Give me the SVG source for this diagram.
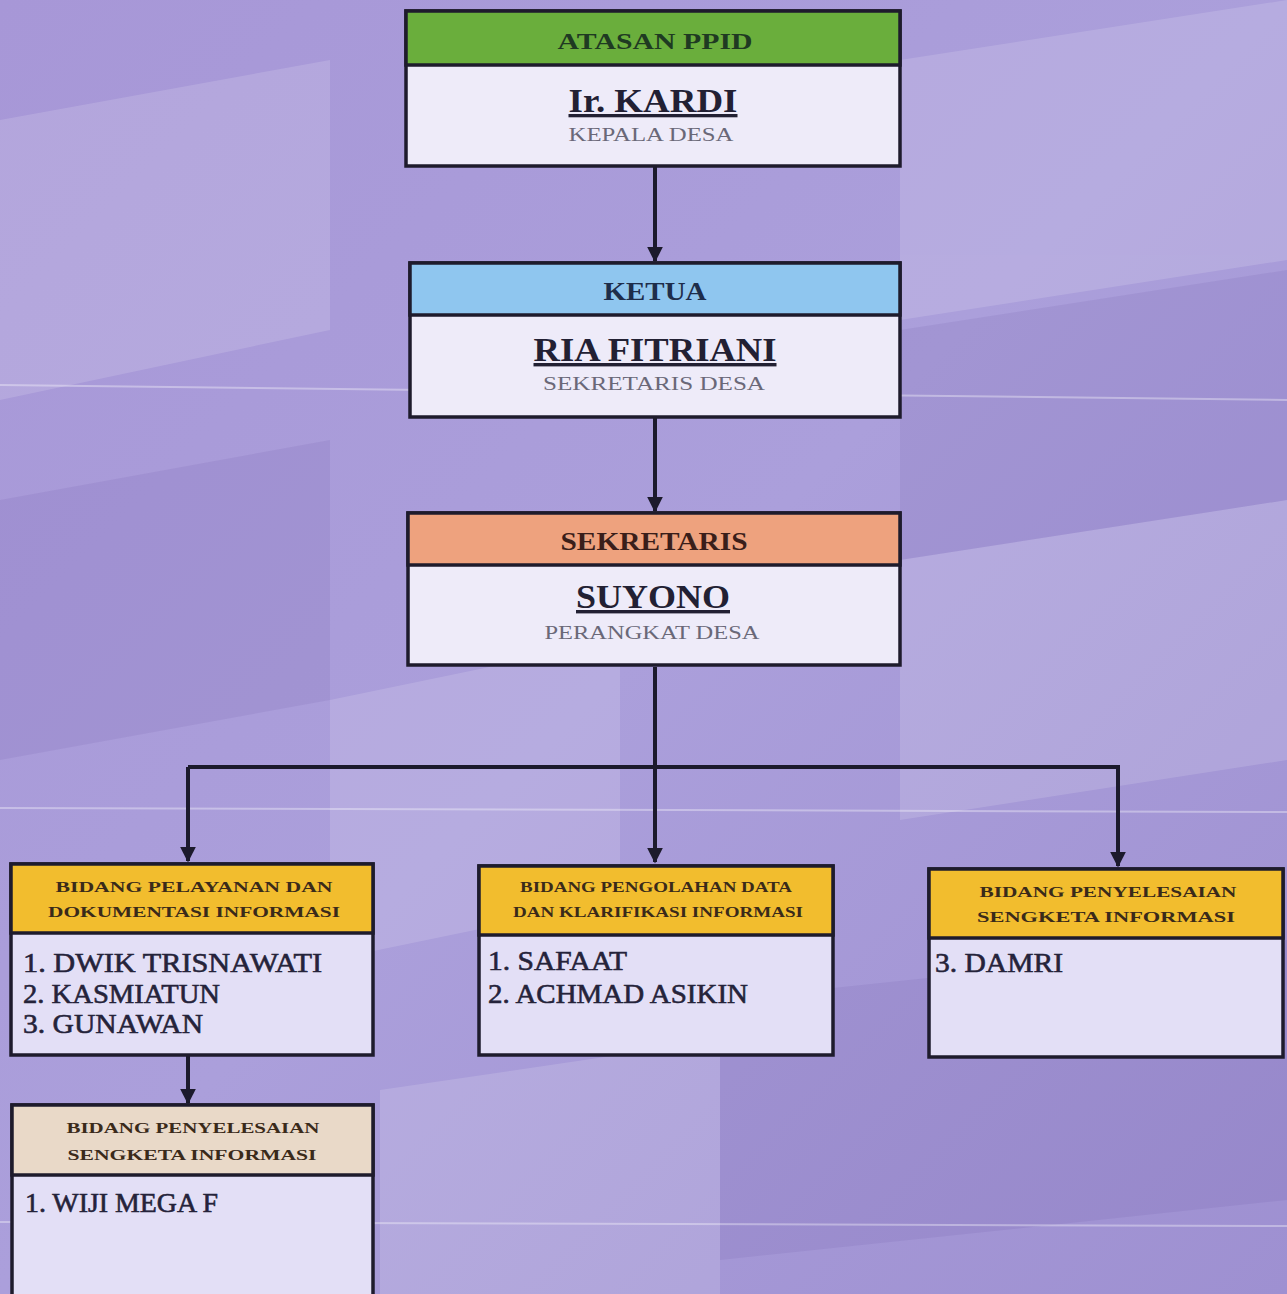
<svg xmlns="http://www.w3.org/2000/svg" width="1287" height="1294" viewBox="0 0 1287 1294">
<defs>
<linearGradient id="bg" x1="0" y1="0" x2="1" y2="1">
<stop offset="0" stop-color="#a797d7"/>
<stop offset="0.5" stop-color="#ab9fdb"/>
<stop offset="1" stop-color="#9e90d1"/>
</linearGradient>
<marker id="arr" viewBox="0 0 10 10" refX="9" refY="5" markerWidth="4" markerHeight="4" orient="auto" markerUnits="strokeWidth">
<path d="M0,0 L10,5 L0,10 z" fill="#1c1a2c"/>
</marker>
<style>
.box{stroke:#1e1b2c;stroke-width:3.5}
.hdr{font-family:"Liberation Serif",serif;font-weight:bold;text-anchor:middle}
.name{font-family:"Liberation Serif",serif;font-weight:bold;text-anchor:middle;fill:#222033;text-decoration:underline}
.role{font-family:"Liberation Serif",serif;text-anchor:middle;fill:#6a6878;font-size:18px}
.small{font-family:"Liberation Serif",serif;font-weight:bold;text-anchor:middle;font-size:15px;fill:#3a2a1a}
.mem{font-family:"Liberation Serif",serif;font-size:28px;fill:#25233a;stroke:#25233a;stroke-width:0.6}
.conn{stroke:#1c1a2c;stroke-width:4;fill:none}
</style>
</defs>
<rect width="1287" height="1294" fill="url(#bg)"/>
<g opacity="0.14" fill="#ffffff">
<polygon points="0,120 330,60 330,330 0,400"/>
<polygon points="330,700 620,640 620,900 330,960"/>
<polygon points="900,60 1287,0 1287,260 900,320"/>
<polygon points="900,560 1287,500 1287,760 900,820"/>
<polygon points="380,1090 720,1040 720,1294 380,1294"/>
</g>
<g opacity="0.08" fill="#3a2a80">
<polygon points="0,500 330,440 330,700 0,760"/>
<polygon points="900,330 1287,270 1287,500 900,560"/>
<polygon points="720,1000 1287,940 1287,1200 720,1260"/>
</g>
<g stroke="#ffffff" stroke-opacity="0.35" stroke-width="2">
<line x1="0" y1="385" x2="1287" y2="400"/>
<line x1="0" y1="808" x2="1287" y2="812"/>
<line x1="0" y1="1222" x2="1287" y2="1226"/>
</g>

<g id="connectors">
<line class="conn" x1="655" y1="167" x2="655" y2="261" marker-end="url(#arr)"/>
<line class="conn" x1="655" y1="418" x2="655" y2="511" marker-end="url(#arr)"/>
<line class="conn" x1="655" y1="667" x2="655" y2="862" marker-end="url(#arr)"/>
<polyline class="conn" points="188,767 1118,767 1118,866" marker-end="url(#arr)"/>
<line class="conn" x1="188" y1="767" x2="188" y2="861" marker-end="url(#arr)"/>
<line class="conn" x1="188" y1="1056" x2="188" y2="1103" marker-end="url(#arr)"/>
</g>

<g id="atasan">
<rect class="box" x="406" y="11" width="494" height="155" fill="#eeebf9"/>
<rect class="box" x="406" y="11" width="494" height="54" fill="#6aae3c"/>
<text class="hdr" x="655" y="49" font-size="24" fill="#1f3a22" textLength="195" lengthAdjust="spacingAndGlyphs">ATASAN PPID</text>
<text class="name" x="653" y="112" font-size="33" textLength="169" lengthAdjust="spacingAndGlyphs">Ir. KARDI</text>
<text class="role" x="651" y="141" textLength="165" lengthAdjust="spacingAndGlyphs">KEPALA DESA</text>
</g>

<g id="ketua">
<rect class="box" x="410" y="263" width="490" height="154" fill="#eeebf9"/>
<rect class="box" x="410" y="263" width="490" height="52" fill="#8fc6ef"/>
<text class="hdr" x="655" y="300" font-size="25" fill="#1e2d4a" textLength="103" lengthAdjust="spacingAndGlyphs">KETUA</text>
<text class="name" x="655" y="361" font-size="34" textLength="243" lengthAdjust="spacingAndGlyphs">RIA FITRIANI</text>
<text class="role" x="654" y="390" textLength="222" lengthAdjust="spacingAndGlyphs">SEKRETARIS DESA</text>
</g>

<g id="sekretaris">
<rect class="box" x="408" y="513" width="492" height="152" fill="#eeebf9"/>
<rect class="box" x="408" y="513" width="492" height="52" fill="#eea27e"/>
<text class="hdr" x="654" y="550" font-size="25" fill="#3a1e1a" textLength="187" lengthAdjust="spacingAndGlyphs">SEKRETARIS</text>
<text class="name" x="653" y="608" font-size="34" textLength="154" lengthAdjust="spacingAndGlyphs">SUYONO</text>
<text class="role" x="652" y="639" textLength="215" lengthAdjust="spacingAndGlyphs">PERANGKAT DESA</text>
</g>

<g id="bidang1">
<rect class="box" x="11" y="864" width="362" height="191" fill="#e3dff6"/>
<rect class="box" x="11" y="864" width="362" height="69" fill="#f2bd2e"/>
<text class="small" x="194" y="892" textLength="277" lengthAdjust="spacingAndGlyphs">BIDANG PELAYANAN DAN</text>
<text class="small" x="194" y="917" textLength="292" lengthAdjust="spacingAndGlyphs">DOKUMENTASI INFORMASI</text>
<text class="mem" x="23" y="972" textLength="299" lengthAdjust="spacingAndGlyphs">1. DWIK TRISNAWATI</text>
<text class="mem" x="23" y="1003" textLength="197" lengthAdjust="spacingAndGlyphs">2. KASMIATUN</text>
<text class="mem" x="23" y="1033" textLength="180" lengthAdjust="spacingAndGlyphs">3. GUNAWAN</text>
</g>

<g id="bidang2">
<rect class="box" x="479" y="866" width="354" height="189" fill="#e3dff6"/>
<rect class="box" x="479" y="866" width="354" height="69" fill="#f2bd2e"/>
<text class="small" x="656" y="892" textLength="272" lengthAdjust="spacingAndGlyphs">BIDANG PENGOLAHAN DATA</text>
<text class="small" x="658" y="917" textLength="290" lengthAdjust="spacingAndGlyphs">DAN KLARIFIKASI INFORMASI</text>
<text class="mem" x="488" y="970" textLength="139" lengthAdjust="spacingAndGlyphs">1. SAFAAT</text>
<text class="mem" x="488" y="1003" textLength="260" lengthAdjust="spacingAndGlyphs">2. ACHMAD ASIKIN</text>
</g>

<g id="bidang3">
<rect class="box" x="929" y="869" width="354" height="188" fill="#e3dff6"/>
<rect class="box" x="929" y="869" width="354" height="69" fill="#f2bd2e"/>
<text class="small" x="1108" y="897" textLength="257" lengthAdjust="spacingAndGlyphs">BIDANG PENYELESAIAN</text>
<text class="small" x="1106" y="922" textLength="258" lengthAdjust="spacingAndGlyphs">SENGKETA INFORMASI</text>
<text class="mem" x="935" y="972" textLength="128" lengthAdjust="spacingAndGlyphs">3. DAMRI</text>
</g>

<g id="bidang4">
<rect class="box" x="12" y="1105" width="361" height="210" fill="#e3dff6"/>
<rect class="box" x="12" y="1105" width="361" height="70" fill="#e9d9c8"/>
<text class="small" x="193" y="1133" textLength="253" lengthAdjust="spacingAndGlyphs">BIDANG PENYELESAIAN</text>
<text class="small" x="192" y="1160" textLength="249" lengthAdjust="spacingAndGlyphs">SENGKETA INFORMASI</text>
<text class="mem" x="25" y="1212" textLength="193" lengthAdjust="spacingAndGlyphs">1. WIJI MEGA F</text>
</g>
</svg>
